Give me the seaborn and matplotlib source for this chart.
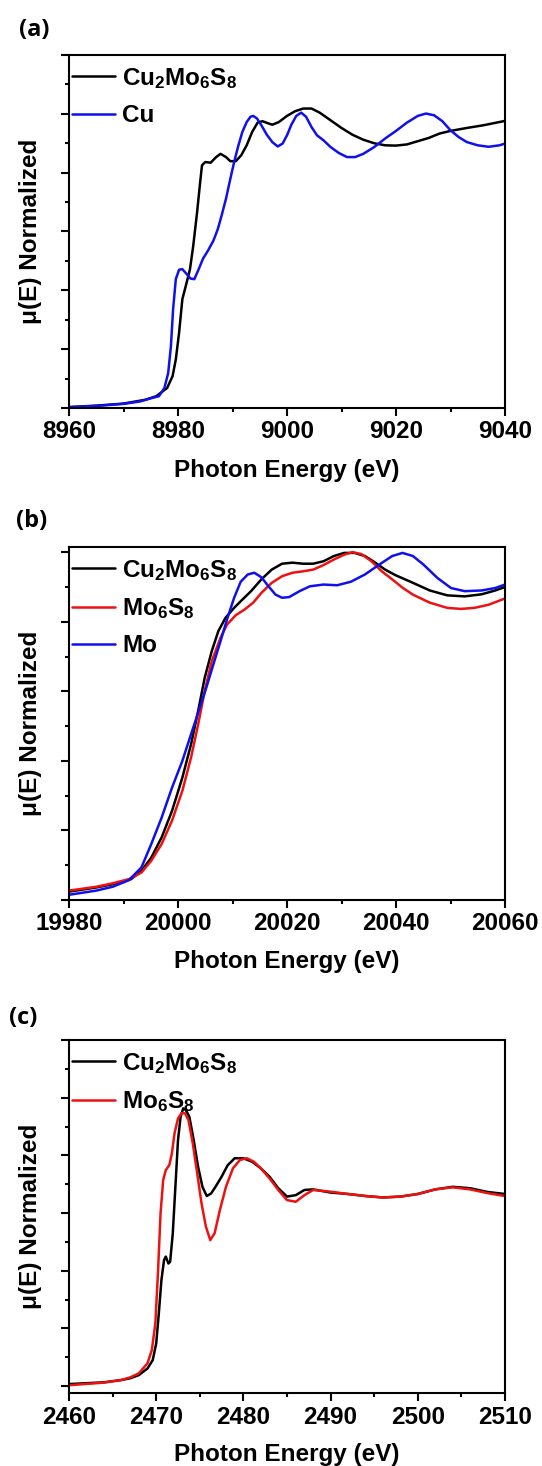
import numpy as np
import pandas as pd
import matplotlib
matplotlib.use("Agg")
import matplotlib.pyplot as plt
from matplotlib.ticker import MultipleLocator, NullFormatter
import seaborn as sns

# ---------------- data ----------------
# Panel (a): Cu K-edge
a_cu2_E = [8960, 8965, 8970, 8974, 8976, 8978, 8979, 8979.6, 8980.2, 8980.8, 8981.5, 8982.2,
           8982.8, 8983.5, 8984.0, 8984.4, 8985.0, 8986.0, 8987.0, 8987.8, 8988.8, 8989.6,
           8990.6, 8991.6, 8992.6, 8993.6, 8994.6, 8995.5, 8996.5, 8997.3, 8998.5, 9000,
           9001.5, 9003, 9004.5, 9006, 9008, 9010, 9012, 9014, 9016, 9018, 9020, 9022, 9024,
           9026, 9028, 9030, 9033, 9036, 9040]
a_cu2_mu = [0.003, 0.008, 0.015, 0.028, 0.040, 0.068, 0.108, 0.165, 0.256, 0.370, 0.420, 0.472,
            0.552, 0.665, 0.756, 0.825, 0.836, 0.834, 0.853, 0.864, 0.853, 0.839,
            0.839, 0.859, 0.893, 0.938, 0.970, 0.975, 0.968, 0.963, 0.972, 0.993,
            1.009, 1.018, 1.018, 1.004, 0.978, 0.952, 0.929, 0.912, 0.900, 0.893, 0.892, 0.896, 0.907,
            0.918, 0.933, 0.942, 0.952, 0.961, 0.976]

a_cu_E = [8960, 8965, 8970, 8973, 8975, 8976.5, 8977.5, 8978.2, 8978.7, 8979.1, 8979.6, 8980.2,
          8980.8, 8981.6, 8982.3, 8983.0, 8983.8, 8984.6, 8985.5, 8986.5, 8987.3, 8988.0,
          8988.8, 8989.6, 8990.3, 8991.0, 8991.8, 8992.6, 8993.3, 8993.8, 8994.5, 8995.3,
          8996.3, 8997.3, 8998.3, 8999.2, 9000.0, 9000.8, 9001.7, 9002.6, 9003.5, 9004.5,
          9005.5, 9006.7, 9008, 9009.5, 9011.0, 9012.5, 9014, 9016, 9018, 9020, 9022, 9024,
          9025.5, 9027, 9028.5, 9030, 9031.5, 9033, 9035, 9037, 9039, 9040]
a_cu_mu = [0.003, 0.007, 0.014, 0.022, 0.033, 0.040, 0.068, 0.119, 0.210, 0.336, 0.438, 0.470,
           0.472, 0.455, 0.440, 0.438, 0.472, 0.508, 0.535, 0.569, 0.608, 0.654,
           0.711, 0.779, 0.836, 0.887, 0.938, 0.972, 0.990, 0.993, 0.984, 0.961,
           0.929, 0.904, 0.889, 0.899, 0.927, 0.963, 0.993, 1.004, 0.990, 0.955,
           0.927, 0.910, 0.887, 0.867, 0.853, 0.853, 0.864, 0.887, 0.916, 0.942, 0.970, 0.993,
           1.001, 0.995, 0.975, 0.944, 0.921, 0.904, 0.893, 0.888, 0.893, 0.899]

# Panel (b): Mo K-edge
b_E = [19980, 19985, 19988.2, 19991.4, 19993.3, 19995.1, 19997, 19998.9, 20000.8, 20002.4,
       20003.7, 20004.9, 20006.2, 20007.4, 20008.7, 20010.3, 20011.5, 20013.4, 20015.3,
       20017.2, 20019.1, 20021, 20022.9, 20024.8, 20026.7, 20028.6, 20030.5, 20032.4,
       20034.3, 20036.2, 20038, 20039.9, 20043.1, 20046.2, 20049.4, 20052.6, 20055.7,
       20058.2, 20060]
b_cu2_mu = [0.024, 0.036, 0.046, 0.060, 0.084, 0.122, 0.180, 0.256, 0.352, 0.448,
            0.544, 0.639, 0.716, 0.773, 0.811, 0.840, 0.859, 0.888, 0.922,
            0.950, 0.967, 0.970, 0.967, 0.967, 0.974, 0.989, 0.998, 0.998,
            0.989, 0.970, 0.950, 0.934, 0.912, 0.890, 0.876, 0.873, 0.879,
            0.890, 0.900]

b_mo6_E = [19980, 19985, 19988, 19991, 19993.3, 19995.1, 19997, 19998.9, 20000.8, 20002.4,
           20003.7, 20004.9, 20006.2, 20007.8, 20009, 20010.6, 20012.2, 20013.8, 20015.3,
           20017.2, 20019.1, 20021, 20022.9, 20024.8, 20026.7, 20028.6, 20030.5, 20032,
           20033.6, 20035.5, 20037.4, 20039.3, 20041.2, 20043.1, 20046.2, 20049.4, 20051.9,
           20054.4, 20057, 20060]
b_mo6_mu = [0.027, 0.038, 0.048, 0.060, 0.079, 0.113, 0.161, 0.228, 0.314, 0.410,
            0.505, 0.601, 0.687, 0.754, 0.792, 0.819, 0.835, 0.855, 0.883,
            0.912, 0.931, 0.941, 0.945, 0.950, 0.963, 0.979, 0.993, 1.000,
            0.995, 0.974, 0.945, 0.922, 0.898, 0.878, 0.855, 0.840, 0.837,
            0.840, 0.849, 0.867]

b_mo_E = [19980, 19985, 19988, 19991, 19993.3, 19995.1, 19997, 19998.9, 20000.8, 20002.4,
          20004, 20005.2, 20006.5, 20007.8, 20009, 20010.3, 20011.5, 20012.8, 20014, 20015.3,
          20016.6, 20017.9, 20019.1, 20020.4, 20022.3, 20024.2, 20026.7, 20029.2, 20031.7,
          20034.3, 20036.8, 20039.3, 20041.2, 20043.1, 20045, 20047.6, 20050.1, 20052.6,
          20055.7, 20058.2, 20060]
b_mo_mu = [0.015, 0.027, 0.038, 0.057, 0.094, 0.161, 0.237, 0.323, 0.400, 0.477,
           0.553, 0.611, 0.678, 0.744, 0.807, 0.869, 0.915, 0.936, 0.941, 0.928,
           0.902, 0.878, 0.869, 0.871, 0.888, 0.902, 0.907, 0.905, 0.915,
           0.936, 0.963, 0.989, 0.998, 0.989, 0.965, 0.926, 0.897, 0.888,
           0.890, 0.897, 0.907]

# Panel (c): S K-edge
c_cu2_E = [2460, 2464, 2466, 2467, 2468, 2469, 2469.6, 2470.0, 2470.3, 2470.6, 2470.9, 2471.1,
           2471.4, 2471.6, 2471.9, 2472.2, 2472.5, 2472.8, 2473.1, 2473.4, 2473.8, 2474.3,
           2474.8, 2475.3, 2475.8, 2476.3, 2476.8, 2477.5, 2478.2, 2479, 2480, 2481, 2482,
           2483, 2484, 2485, 2486, 2487, 2488, 2490, 2492, 2494, 2496, 2498, 2500, 2502,
           2504, 2506, 2508, 2510]
c_cu2_mu = [0.007, 0.013, 0.021, 0.027, 0.038, 0.061, 0.090, 0.148, 0.252, 0.368, 0.437, 0.449,
            0.425, 0.431, 0.529, 0.691, 0.853, 0.934, 0.963, 0.957, 0.934, 0.853,
            0.761, 0.691, 0.659, 0.668, 0.691, 0.726, 0.766, 0.790, 0.790, 0.778, 0.755,
            0.726, 0.686, 0.657, 0.662, 0.680, 0.682, 0.671, 0.666, 0.659, 0.654, 0.657, 0.666, 0.682,
            0.691, 0.686, 0.673, 0.666]

c_mo6_E = [2460, 2464, 2466, 2467, 2468, 2469, 2469.5, 2469.9, 2470.2, 2470.5, 2470.8, 2471.1,
           2471.5, 2471.8, 2472.1, 2472.5, 2472.9, 2473.3, 2473.7, 2474.2, 2474.7, 2475.2,
           2475.7, 2476.2, 2476.7, 2477.3, 2478, 2478.8, 2479.6, 2480.4, 2481.2, 2482, 2483,
           2484, 2485, 2486, 2487, 2488, 2490, 2492, 2494, 2496, 2498, 2500, 2502, 2504,
           2506, 2508, 2510]
c_mo6_mu = [0.003, 0.012, 0.021, 0.030, 0.044, 0.079, 0.125, 0.217, 0.391, 0.599, 0.714, 0.749,
            0.766, 0.807, 0.876, 0.928, 0.946, 0.946, 0.922, 0.841, 0.738, 0.633,
            0.553, 0.506, 0.530, 0.610, 0.691, 0.755, 0.784, 0.790, 0.778, 0.755, 0.720,
            0.680, 0.645, 0.639, 0.662, 0.680, 0.674, 0.666, 0.659, 0.654, 0.657, 0.666, 0.682, 0.689,
            0.682, 0.669, 0.659]

LBL_CU2 = r"Cu$_\mathbf{2}$Mo$_\mathbf{6}$S$_\mathbf{8}$"
LBL_MO6 = r"Mo$_\mathbf{6}$S$_\mathbf{8}$"
LBL_CU = "Cu"
LBL_MO = "Mo"

# ---------------- style ----------------
sns.set_theme(style="ticks")
plt.rcParams.update({
    "font.family": ["Liberation Sans", "DejaVu Sans"],
    "font.weight": "bold",
    "axes.labelweight": "bold",
    "mathtext.fontset": "custom",
    "mathtext.rm": "Liberation Sans:bold",
    "mathtext.bf": "Liberation Sans:bold",
    "mathtext.it": "Liberation Sans:bold",
    "mathtext.default": "bf",
    "axes.linewidth": 1.5,
    "axes.edgecolor": "black",
    "axes.labelcolor": "black",
    "text.color": "black",
    "xtick.color": "black",
    "ytick.color": "black",
    "xtick.labelcolor": "black",
    "ytick.labelcolor": "black",
})

W, H = 542, 1466
FS = 17.5
fig = plt.figure(figsize=(W / 100, H / 100), dpi=100)
fig.patch.set_facecolor("white")

def frac_axes(left, top, right, bottom):
    return fig.add_axes([left / W, 1 - bottom / H, (right - left) / W, (bottom - top) / H])

panels = [
    dict(box=(69, 55, 505, 408), tag="(a)", tagpos=(34, 30),
         series=[(LBL_CU2, a_cu2_E, a_cu2_mu, "#000000"), (LBL_CU, a_cu_E, a_cu_mu, "#1010EE")],
         xlim=(8960, 9040), xmaj=20, xmin=10, ylim=(0, 1.2)),
    dict(box=(69, 547, 505, 900), tag="(b)", tagpos=(32, 521),
         series=[(LBL_CU2, b_E, b_cu2_mu, "#000000"), (LBL_MO6, b_mo6_E, b_mo6_mu, "#EE1111"),
                 (LBL_MO, b_mo_E, b_mo_mu, "#1010EE")],
         xlim=(19980, 20060), xmaj=20, xmin=10, ylim=(0, 1.015)),
    dict(box=(69, 1040, 505, 1393), tag="(c)", tagpos=(23, 1018),
         series=[(LBL_CU2, c_cu2_E, c_cu2_mu, "#000000"), (LBL_MO6, c_mo6_E, c_mo6_mu, "#EE1111")],
         xlim=(2460, 2510), xmaj=10, xmin=5, ylim=(-0.024, 1.2)),
]

for p in panels:
    ax = frac_axes(*p["box"])
    frames = []
    for lbl, E, mu, col in p["series"]:
        frames.append(pd.DataFrame({"E": E, "mu": mu, "s": lbl}))
    df = pd.concat(frames, ignore_index=True)
    pal = {lbl: col for lbl, _, _, col in p["series"]}
    order = [lbl for lbl, _, _, _ in p["series"]]
    sns.lineplot(data=df, x="E", y="mu", hue="s", hue_order=order, palette=pal,
                 estimator=None, sort=False, linewidth=1.8, ax=ax, legend=False)

    ax.set_xlim(*p["xlim"])
    ax.set_ylim(*p["ylim"])
    ax.xaxis.set_major_locator(MultipleLocator(p["xmaj"]))
    ax.xaxis.set_minor_locator(MultipleLocator(p["xmin"]))
    ax.yaxis.set_major_locator(MultipleLocator(0.2))
    ax.yaxis.set_minor_locator(MultipleLocator(0.1))
    ax.yaxis.set_major_formatter(NullFormatter())
    ax.tick_params(axis="both", which="major", direction="out", length=5.5, width=1.5,
                   labelsize=FS, pad=3.5)
    ax.tick_params(axis="both", which="minor", direction="out", length=3.2, width=1.5)
    for lab in ax.get_xticklabels():
        lab.set_fontweight("bold")
        lab.set_color("black")
    for s in ax.spines.values():
        s.set_visible(True)
        s.set_linewidth(1.5)

    ax.set_xlabel("Photon Energy (eV)", fontsize=FS, fontweight="bold", color="black")
    ax.set_ylabel("\u03bc(E) Normalized", fontsize=FS, fontweight="bold", color="black")
    ax.xaxis.label.set_va("center")
    ax.yaxis.label.set_va("center")
    axw = p["box"][2] - p["box"][0]
    axh = p["box"][3] - p["box"][1]
    ax.xaxis.set_label_coords(0.5, -62 / axh)
    ax.yaxis.set_label_coords((31 - p["box"][0]) / axw, 0.5)

    handles = ax.get_lines()[:len(p["series"])]
    leg = ax.legend(handles, order, loc="upper left", frameon=False,
                    bbox_to_anchor=(-0.018, 1.0),
                    handlelength=1.75, handletextpad=0.3, labelspacing=0.55,
                    borderaxespad=0.1, borderpad=0.35, prop={"weight": "bold", "size": FS})
    for t in leg.get_texts():
        t.set_color("black")

    fig.text(p["tagpos"][0] / W, 1 - p["tagpos"][1] / H, p["tag"], fontsize=17,
             fontweight="bold", ha="center", va="center", color="black",
             family=["Open Sans", "DejaVu Sans"])

fig.savefig("out.png", dpi=100, facecolor="white")
